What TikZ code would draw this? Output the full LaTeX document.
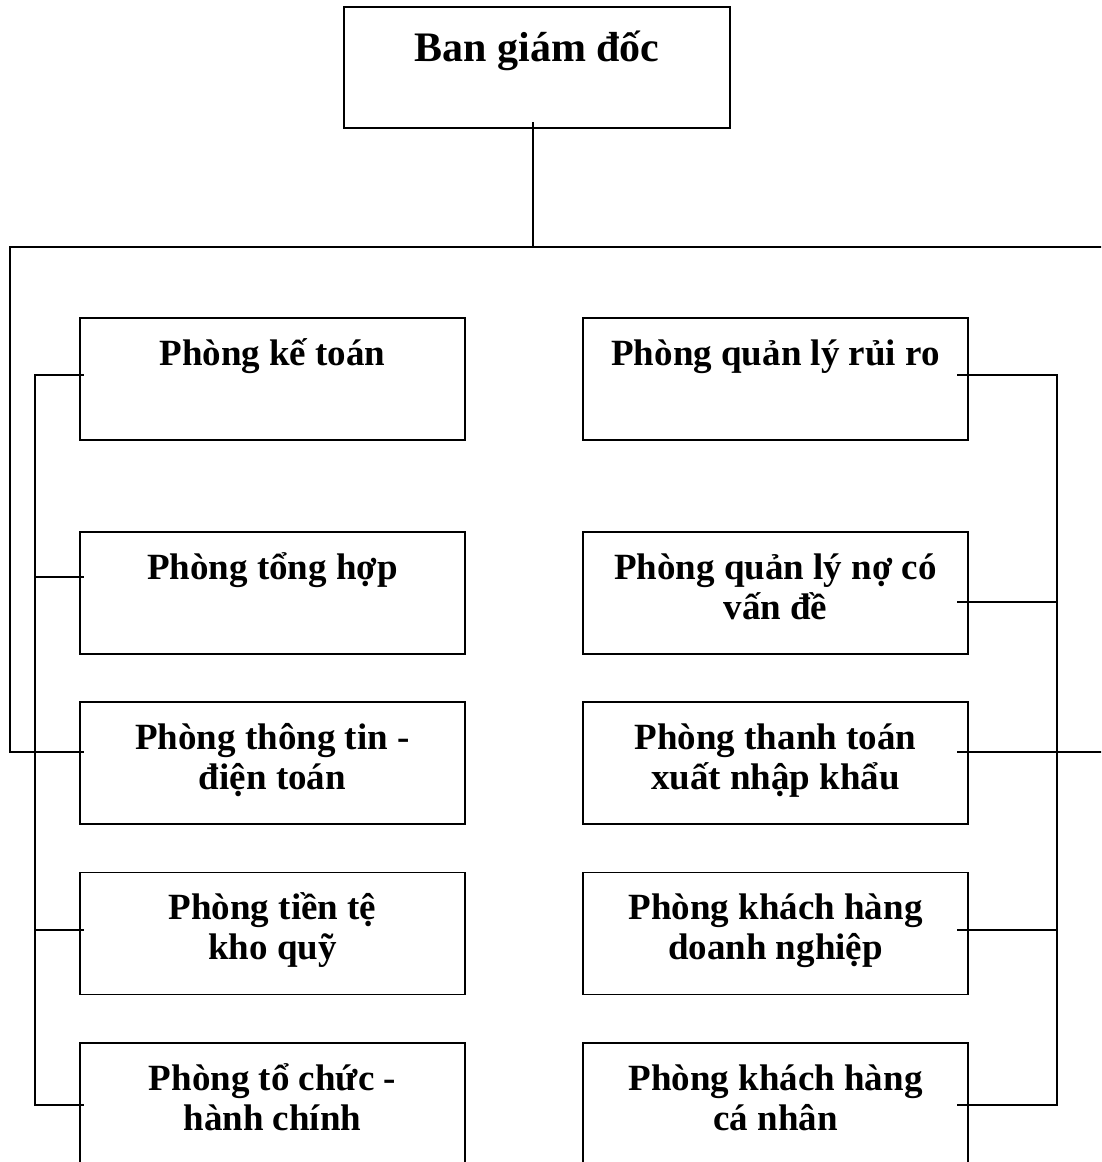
\documentclass[tikz,border=0pt]{standalone}
\usepackage{fontspec}
\setmainfont{Liberation Serif}
\begin{document}
\begin{tikzpicture}[x=1pt,y=-1pt,
  box/.style={draw,line width=1.7pt,minimum width=385pt,minimum height=122pt,inner sep=0pt,outer sep=0pt},
  lbl/.style={anchor=north,align=center,inner sep=0pt,font=\fontsize{37}{40}\selectfont\bfseries},
  conn/.style={line width=1.4pt,line cap=rect}]
\clip (0,0) rectangle (1101,1162);
\useasboundingbox (0,0) rectangle (1101,1162);
% boxes
\node[box,minimum width=386pt,minimum height=121pt] (G) at (537,67.5) {};
\node[box] (L1) at (272.5,379) {};
\node[box] (L2) at (272.5,593) {};
\node[box] (L3) at (272.5,763) {};
\node[box] (L4) at (272.5,933.5) {};
\node[box] (L5) at (272.5,1104) {};
\node[box] (R1) at (775.5,379) {};
\node[box] (R2) at (775.5,593) {};
\node[box] (R3) at (775.5,763) {};
\node[box] (R4) at (775.5,933.5) {};
\node[box] (R5) at (775.5,1104) {};
% labels
\node[lbl,font=\fontsize{42}{46}\selectfont\bfseries] (tG) at ([yshift=-14pt]G.north) {\rule{0pt}{40pt}Ban giám đốc};
\node[lbl] (tL1) at ([yshift=-13pt]L1.north) {\rule{0pt}{34pt}Phòng kế toán};
\node[lbl] (tL2) at ([yshift=-13pt]L2.north) {\rule{0pt}{34pt}Phòng tổng hợp};
\node[lbl] (tL3) at ([yshift=-13pt]L3.north) {\rule{0pt}{34pt}Phòng thông tin -\\điện toán};
\node[lbl] (tL4) at ([yshift=-13pt]L4.north) {\rule{0pt}{34pt}Phòng tiền tệ\\kho quỹ};
\node[lbl] (tL5) at ([yshift=-13pt]L5.north) {\rule{0pt}{34pt}Phòng tổ chức -\\hành chính};
\node[lbl] (tR1) at ([yshift=-13pt]R1.north) {\rule{0pt}{34pt}Phòng quản lý rủi ro};
\node[lbl] (tR2) at ([yshift=-13pt]R2.north) {\rule{0pt}{34pt}Phòng quản lý nợ có\\vấn đề};
\node[lbl] (tR3) at ([yshift=-13pt]R3.north) {\rule{0pt}{34pt}Phòng thanh toán\\xuất nhập khẩu};
\node[lbl] (tR4) at ([yshift=-13pt]R4.north) {\rule{0pt}{34pt}Phòng khách hàng\\doanh nghiệp};
\node[lbl] (tR5) at ([yshift=-13pt]R5.north) {\rule{0pt}{34pt}Phòng khách hàng\\cá nhân};
% connector points
\coordinate (Gc) at ([xshift=-4pt,yshift=5pt]G.south);
\coordinate (busL) at (10,247);
\coordinate (busR) at (1101,247);
\coordinate (lbus) at (35,0);
\coordinate (rbus) at (1057,0);
\coordinate (L1c) at ([xshift=3pt,yshift=4pt]L1.west);
\coordinate (L2c) at ([xshift=3pt,yshift=16pt]L2.west);
\coordinate (L3c) at ([xshift=3pt,yshift=11pt]L3.west);
\coordinate (L4c) at ([xshift=3pt,yshift=3.5pt]L4.west);
\coordinate (L5c) at ([xshift=3pt,yshift=-1pt]L5.west);
\coordinate (R1c) at ([xshift=-10pt,yshift=4pt]R1.east);
\coordinate (R2c) at ([xshift=-10pt,yshift=-9pt]R2.east);
\coordinate (R3c) at ([xshift=-10pt,yshift=11pt]R3.east);
\coordinate (R4c) at ([xshift=-10pt,yshift=3.5pt]R4.east);
\coordinate (R5c) at ([xshift=-10pt,yshift=-1pt]R5.east);
% connectors
\draw[conn] (Gc) -- (Gc |- busL);
\draw[conn] (busR) -- (busL) |- (L3c);
\draw[conn] (R3c) -- (R3c -| busR);
\draw[conn] (L1c) -- (L1c -| lbus) -- (L5c -| lbus) -- (L5c);
\draw[conn] (L2c) -- (L2c -| lbus);
\draw[conn] (L4c) -- (L4c -| lbus);
\draw[conn] (R1c) -- (R1c -| rbus) -- (R5c -| rbus) -- (R5c);
\draw[conn] (R2c) -- (R2c -| rbus);
\draw[conn] (R4c) -- (R4c -| rbus);
\end{tikzpicture}
\end{document}
